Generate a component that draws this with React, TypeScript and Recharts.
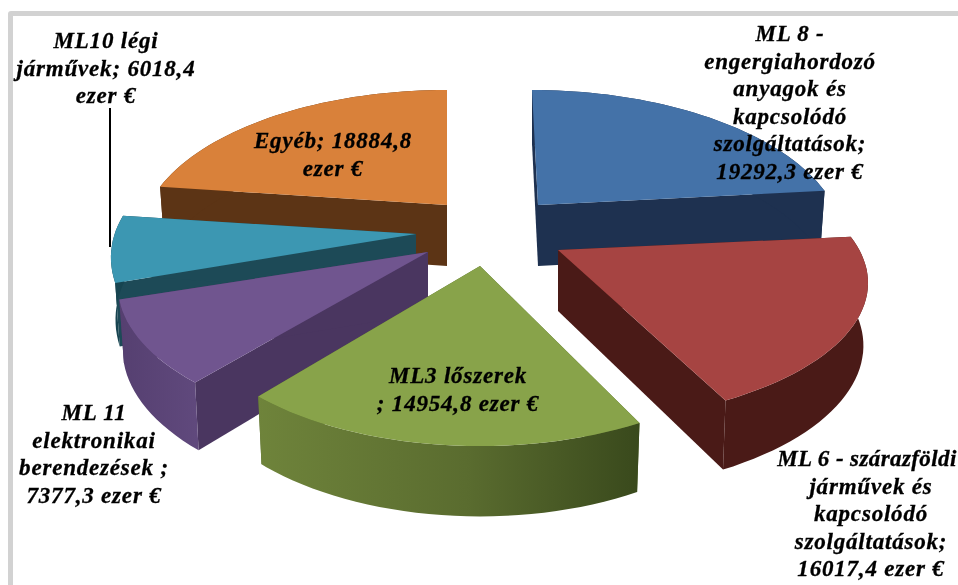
import React from "react";
import { PieChart, Pie } from "recharts";

const categories = [
  "ML8 energiahordozó",
  "ML6 szárazföldi járművek",
  "ML3 lőszerek",
  "ML11 elektronikai berendezések",
  "ML10 légi járművek",
  "Egyéb",
];
const values = [19292.3, 16017.4, 14954.8, 7377.3, 6018.4, 18884.8];
const labelLines = [
  ["ML 8 -", "engergiahordozó", "anyagok és", "kapcsolódó", "szolgáltatások;", "19292,3 ezer €"],
  ["ML 6 - szárazföldi", "járművek és", "kapcsolódó", "szolgáltatások;", "16017,4 ezer €"],
  ["ML3 lőszerek", "; 14954,8 ezer €"],
  ["ML 11", "elektronikai", "berendezések ;", "7377,3 ezer €"],
  ["ML10 légi", "járművek; 6018,4", "ezer €"],
  ["Egyéb; 18884,8", "ezer €"],
];

const topColors = ["#4472a8", "#a64442", "#88a34a", "#70558f", "#3c97b2", "#d9813a"];
const wallColors = ["#1e3150", "#4a1a17", "#55692c", "#4a3660", "#1d4a57", "#5c3415"];
const rimColors = ["#1e3150", "#4a1a17", "url(#greenRim)", "url(#purpleRim)", "#174450", "#5c3415"];

// exploded slice apex relative to the pie centre, plus per-slice fudge factors
const CX = 480;
const CY = 240;
const sliceOffset = [[58, -35], [78, 10], [0, 26], [-52, 12], [-64, -6], [-33, -35]];
const sliceWidth = [1.03, 1.05, 1, 1.05, 1.05, 1.04];
const sliceHeight = [1, 0.93, 0.97, 0.97, 1, 1];
const sliceShear = [-6, 0, 0, 0, -25, 0];
const labelCentre = [[790, 33], [871, 458], [458, 375], [94, 412], [106, 40], [333, 140]];
const drawOrder = [5, 0, 4, 1, 3, 2];

const RX = 2.87; // horizontal px per outerRadius unit at the plane's middle
const RY = 1.42;
const PERSPECTIVE = 0.235;
const DEPTH = 61;
const LINE_H = 27.6;

const data = categories.map((name, i) => ({ name, value: values[i] }));

function project(i: number, cx: number, cy: number, radius: number, thetaDeg: number, r: number, low: boolean) {
  const t = (thetaDeg * Math.PI) / 180;
  const X = r * Math.sin(t);
  const Y = r * Math.cos(t);
  const s = 1 / (1 + PERSPECTIVE * Y);
  const x =
    cx +
    sliceOffset[i][0] +
    (radius * RX * sliceWidth[i] * X * s + sliceShear[i] * Y) * (low ? 0.985 : 1);
  const y =
    cy +
    sliceOffset[i][1] -
    radius * RY * sliceHeight[i] * Y * s +
    (low ? DEPTH * (1 + (s - 1) * 0.5) : 0);
  return [x, y];
}

const toPath = (pts: number[][]) =>
  "M" + pts.map((p) => `${p[0].toFixed(1)},${p[1].toFixed(1)}`).join("L") + "Z";

function Slice3D(props: any) {
  const i = categories.indexOf(props.name);
  const { cx, cy, outerRadius, startAngle, endAngle } = props;
  const from = 90 - startAngle;
  const to = 90 - endAngle;
  const thetas: number[] = [];
  for (let a = from; a < to; a += 2) thetas.push(a);
  thetas.push(to);
  const p = (a: number, r: number, low: boolean) => project(i, cx, cy, outerRadius, a, r, low);

  const top = [p(from, 0, false), ...thetas.map((a) => p(a, 1, false))];
  const rim = [...thetas.map((a) => p(a, 1, false)), ...[...thetas].reverse().map((a) => p(a, 1, true))];
  const wallA = [p(from, 0, false), p(from, 1, false), p(from, 1, true), p(from, 0, true)];
  const wallB = [p(to, 0, false), p(to, 1, false), p(to, 1, true), p(to, 0, true)];

  return (
    <g>
      <path d={toPath(wallA)} fill={wallColors[i]} />
      <path d={toPath(wallB)} fill={wallColors[i]} />
      <path d={toPath(rim)} fill={rimColors[i]} />
      <path d={toPath(top)} fill={topColors[i]} />
    </g>
  );
}

function SliceLabel({ i }: { i: number }) {
  const cx = labelCentre[i][0];
  return (
    <text
      x={cx}
      y={labelCentre[i][1] + 8}
      textAnchor="middle"
      fontFamily="'Liberation Serif', serif"
      fontWeight="bold"
      fontStyle="italic"
      fontSize={23}
      letterSpacing={0.8}
      fill="#000"
      stroke="#000"
      strokeWidth={0.3}
    >
      {labelLines[i].map((line, n) => {
        // the long ML6 line runs right up to the picture's edge, tighten it to stay inside
        const tight = i === 1 && n === 0;
        return (
          <tspan key={n} x={tight ? cx - 4 : cx} dy={n === 0 ? 0 : LINE_H} letterSpacing={tight ? 0.4 : undefined}>
            {line}
          </tspan>
        );
      })}
    </text>
  );
}

export default function App() {
  return (
    <div style={{ position: "absolute", left: 0, top: 0, width: 958, height: 585, background: "#fff", overflow: "hidden" }}>
      <div
        style={{
          position: "absolute",
          left: 8,
          top: 11,
          width: 960,
          height: 590,
          border: "5px solid #d2d2d2",
          boxSizing: "border-box",
          borderRadius: 3,
        }}
      />
      <PieChart
        width={958}
        height={585}
        style={{ position: "absolute", left: 0, top: 0, filter: "blur(0.4px)" }}
        margin={{ top: 0, right: 0, bottom: 0, left: 0 }}
      >
        <defs>
          <linearGradient id="greenRim" gradientUnits="userSpaceOnUse" x1={255} y1={0} x2={640} y2={0}>
            <stop offset="0" stopColor="#6f843b" />
            <stop offset="0.55" stopColor="#5a6c2f" />
            <stop offset="1" stopColor="#39491c" />
          </linearGradient>
          <linearGradient id="purpleRim" gradientUnits="userSpaceOnUse" x1={118} y1={0} x2={205} y2={0}>
            <stop offset="0" stopColor="#553f70" />
            <stop offset="1" stopColor="#614a7e" />
          </linearGradient>
        </defs>
        {drawOrder.map((layer) => (
          <Pie
            key={layer}
            data={data}
            dataKey="value"
            nameKey="name"
            cx={CX}
            cy={CY}
            outerRadius={100}
            startAngle={90}
            endAngle={-270}
            stroke="none"
            isAnimationActive={false}
            labelLine={false}
            shape={(props: any) => (props.name === categories[layer] ? <Slice3D {...props} /> : <g />)}
          />
        ))}
        {/* labels go in a last pie so they sit above every slice */}
        <Pie
          data={data}
          dataKey="value"
          nameKey="name"
          cx={CX}
          cy={CY}
          outerRadius={100}
          startAngle={90}
          endAngle={-270}
          stroke="none"
          isAnimationActive={false}
          labelLine={false}
          shape={(props: any) => {
            const i = categories.indexOf(props.name);
            return (
              <g>
                {i === 4 && <line x1={110} y1={108} x2={110} y2={247} stroke="#000" strokeWidth={2} />}
                <SliceLabel i={i} />
              </g>
            );
          }}
        />
      </PieChart>
    </div>
  );
}
